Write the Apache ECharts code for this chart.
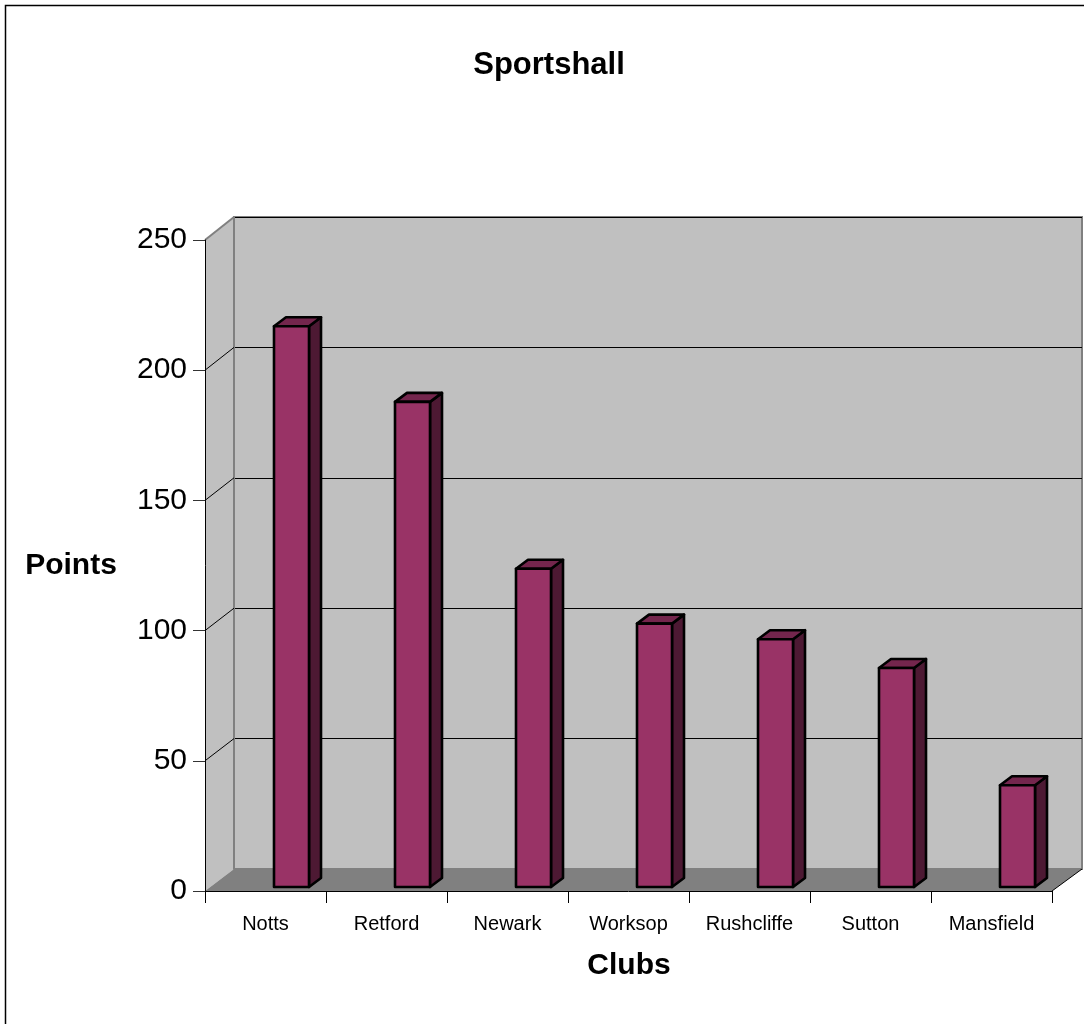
<!DOCTYPE html>
<html>
<head>
<meta charset="utf-8">
<script src="https://cdn.jsdelivr.net/npm/echarts@6/dist/echarts.min.js"></script>
<style>
html,body{margin:0;padding:0;background:#fff;}
#c{width:1084px;height:1024px;}
</style>
</head>
<body>
<div id="c"></div>
<script>
// ---- data ----
const categories = ['Notts','Retford','Newark','Worksop','Rushcliffe','Sutton','Mansfield'];
const points = [215, 186, 122, 101, 95, 84, 39];
const yTicks = [0, 50, 100, 150, 200, 250];

// ---- layout / style ----
const FONT = '"Liberation Sans", Arial, sans-serif';
const FRONT = {left:205, top:240, width:847, height:651};
const BACK  = {left:234, top:217, width:848, height:652};
const BARS  = {left:231, top:235, width:847, height:652};
const BAR_W = 35, DX = 12, DY = -9;

const chart = echarts.init(document.getElementById('c'), null, {renderer:'canvas'});

const option = {
  backgroundColor:'#ffffff',
  animation:false,
  grid:[
    {left:FRONT.left, top:FRONT.top, width:FRONT.width, height:FRONT.height, containLabel:false},
    {left:BACK.left, top:BACK.top, width:BACK.width, height:BACK.height, show:true,
     backgroundColor:'#C0C0C0', borderColor:'#808080', borderWidth:2, z:0},
    {left:BARS.left, top:BARS.top, width:BARS.width, height:BARS.height}
  ],
  xAxis:[
    {type:'category', gridIndex:0, data:categories, z:10,
     axisLine:{show:true, lineStyle:{color:'#000', width:1}},
     axisTick:{show:true, length:12, interval:0, lineStyle:{color:'#000'}},
     axisLabel:{fontFamily:FONT, fontSize:20, color:'#000', margin:23, interval:0},
     splitLine:{show:false}},
    {type:'category', gridIndex:1, data:categories, show:false},
    {type:'category', gridIndex:2, data:categories, show:false}
  ],
  yAxis:[
    {type:'value', gridIndex:0, min:yTicks[0], max:yTicks[yTicks.length-1], interval:50, z:10,
     axisLine:{show:true, lineStyle:{color:'#000', width:1}},
     axisTick:{show:true, length:12, lineStyle:{color:'#333'}},
     axisLabel:{fontFamily:FONT, fontSize:30, color:'#000', margin:18},
     splitLine:{show:false}},
    {type:'value', gridIndex:1, min:0, max:250, interval:50,
     axisLine:{show:false}, axisTick:{show:false}, axisLabel:{show:false},
     splitLine:{show:true, lineStyle:{color:'#000', width:1}}},
    {type:'value', gridIndex:2, min:0, max:250, interval:50, show:false}
  ],
  series:[{
    type:'custom', xAxisIndex:2, yAxisIndex:2, z:5,
    data: points.map((v,i)=>[i,v]),
    renderItem:function(params, api){
      const i = api.value(0), v = api.value(1);
      const t = api.coord([i, v]);
      const b = api.coord([i, 0]);
      const x0 = t[0]-BAR_W/2, x1 = t[0]+BAR_W/2, yT = t[1], yB = b[1];
      const stroke = {stroke:'#000', lineWidth:2.6, lineJoin:'round'};
      return {type:'group', children:[
        {type:'polygon', shape:{points:[[x1,yT],[x1+DX,yT+DY],[x1+DX,yB+DY],[x1,yB]]},
         style:Object.assign({fill:'#4D1933'}, stroke)},
        {type:'polygon', shape:{points:[[x0,yT],[x1,yT],[x1+DX,yT+DY],[x0+DX,yT+DY]]},
         style:Object.assign({fill:'#74264D'}, stroke)},
        {type:'rect', shape:{x:x0, y:yT, width:BAR_W, height:yB-yT},
         style:Object.assign({fill:'#993366'}, stroke)}
      ]};
    }
  }]
};
chart.setOption(option);

// walls, floor and connectors derived from the two axes
const yF = v => chart.convertToPixel({gridIndex:0}, [0, v])[1];
const yB = v => chart.convertToPixel({gridIndex:1}, [0, v])[1];
const fL = FRONT.left, fR = FRONT.left+FRONT.width;
const bL = BACK.left, bR = BACK.left+BACK.width;
const g = [];
// side wall
g.push({type:'polygon', z:1, shape:{points:[[fL,yF(0)],[fL,yF(250)],[bL,yB(250)],[bL,yB(0)]]},
  style:{fill:'#C0C0C0', stroke:null}});
// floor
g.push({type:'polygon', z:1, shape:{points:[[fL,yF(0)],[fR,yF(0)],[bR,yB(0)],[bL,yB(0)]]},
  style:{fill:'#808080', stroke:null}});
// floor right edge
g.push({type:'line', z:2, shape:{x1:fR, y1:yF(0), x2:bR, y2:yB(0)}, style:{stroke:'#000', lineWidth:1}});
// top diagonal of side wall
g.push({type:'line', z:2, shape:{x1:fL, y1:yF(250), x2:bL, y2:yB(250)}, style:{stroke:'#808080', lineWidth:2}});
// back wall left edge (over side wall)
g.push({type:'line', z:2, shape:{x1:bL, y1:yB(250), x2:bL, y2:yB(0)}, style:{stroke:'#808080', lineWidth:2}});
// connectors on side wall
yTicks.slice(1, -1).forEach(v=>{
  g.push({type:'line', z:2, shape:{x1:fL, y1:yF(v), x2:bL, y2:yB(v)}, style:{stroke:'#000', lineWidth:1}});
});
// title and axis names
g.push({type:'text', z:3, style:{text:'Sportshall', x:549, y:65, textAlign:'center', textVerticalAlign:'middle',
  font:'bold 31px ' + FONT, fill:'#000'}});
g.push({type:'text', z:3, style:{text:'Points', x:71, y:566, textAlign:'center', textVerticalAlign:'middle',
  font:'bold 30px ' + FONT, fill:'#000'}});
g.push({type:'text', z:3, style:{text:'Clubs', x:629, y:966, textAlign:'center', textVerticalAlign:'middle',
  font:'bold 30px ' + FONT, fill:'#000'}});
// outer frame
g.push({type:'rect', z:0, shape:{x:5.5, y:5.5, width:1300, height:1300}, style:{fill:null, stroke:'#000', lineWidth:1.5}});
chart.setOption({graphic:g});
</script>
</body>
</html>
